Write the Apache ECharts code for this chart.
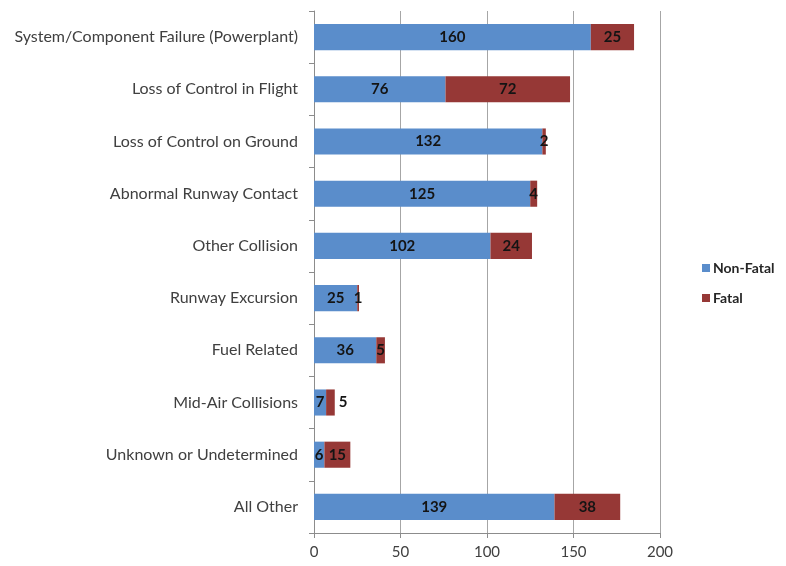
<!DOCTYPE html>
<html>
<head>
<meta charset="utf-8">
<script src="https://cdn.jsdelivr.net/npm/echarts@6/dist/echarts.min.js"></script>
<style>
  html, body { margin: 0; padding: 0; background: #fff; }
  #chart { width: 786px; height: 566px; }
</style>
</head>
<body>
<div id="chart"></div>
<script>
// Accident categories, top to bottom
const categories = [
  'System/Component Failure (Powerplant)',
  'Loss of Control in Flight',
  'Loss of Control on Ground',
  'Abnormal Runway Contact',
  'Other Collision',
  'Runway Excursion',
  'Fuel Related',
  'Mid-Air Collisions',
  'Unknown or Undetermined',
  'All Other'
];
const nonFatal = [160, 76, 132, 125, 102, 25, 36, 7, 6, 139];
const fatal = [25, 72, 2, 4, 24, 1, 5, 5, 15, 38];
const xTicks = [0, 50, 100, 150, 200];

const FONT = 'Lato';
const chart = echarts.init(document.getElementById('chart'), null, { renderer: 'canvas' });

// Labels that do not fit inside a tiny segment sit just past its end
const fatalData = fatal.map((v, i) => {
  if (categories[i] === 'Mid-Air Collisions') {
    return { value: v, label: { position: 'right', distance: 4 } };
  }
  return v;
});

const labelStyle = {
  show: true,
  position: 'inside',
  fontFamily: FONT,
  fontWeight: 'bold',
  fontSize: 15,
  color: '#141414'
};

chart.setOption({
  animation: false,
  textStyle: { fontFamily: FONT },
  grid: { left: 314, right: 126, top: 11, bottom: 33, containLabel: false },
  legend: {
    orient: 'vertical',
    left: 697,
    top: 256,
    itemWidth: 8,
    itemHeight: 8,
    itemGap: 16,
    icon: 'rect',
    textStyle: { fontFamily: FONT, fontWeight: 'bold', fontSize: 14, color: '#262626', padding: [0, 0, 0, -2] },
    data: ['Non-Fatal', 'Fatal']
  },
  xAxis: {
    type: 'value',
    min: xTicks[0],
    max: xTicks[xTicks.length - 1],
    interval: xTicks[1] - xTicks[0],
    axisLine: { show: true, lineStyle: { color: '#8c8c8c', width: 1 } },
    axisTick: { show: true, length: 5, lineStyle: { color: '#8c8c8c' } },
    axisLabel: { fontFamily: FONT, fontSize: 15, color: '#404040', margin: 12 },
    splitLine: { show: true, lineStyle: { color: '#a6a6a6', width: 1 } }
  },
  yAxis: {
    type: 'category',
    inverse: true,
    data: categories,
    axisLine: { show: true, lineStyle: { color: '#8c8c8c', width: 1 } },
    axisTick: { show: true, length: 5, lineStyle: { color: '#8c8c8c' } },
    axisLabel: { fontFamily: FONT, fontSize: 16, color: '#404040', margin: 16 },
    splitLine: { show: false }
  },
  series: [
    {
      name: 'Non-Fatal',
      type: 'bar',
      stack: 'total',
      barWidth: '50%',
      itemStyle: { color: '#5a8dcb' },
      label: labelStyle,
      data: nonFatal
    },
    {
      name: 'Fatal',
      type: 'bar',
      stack: 'total',
      barWidth: '50%',
      itemStyle: { color: '#963836' },
      label: labelStyle,
      data: fatalData
    }
  ]
});
</script>
</body>
</html>
